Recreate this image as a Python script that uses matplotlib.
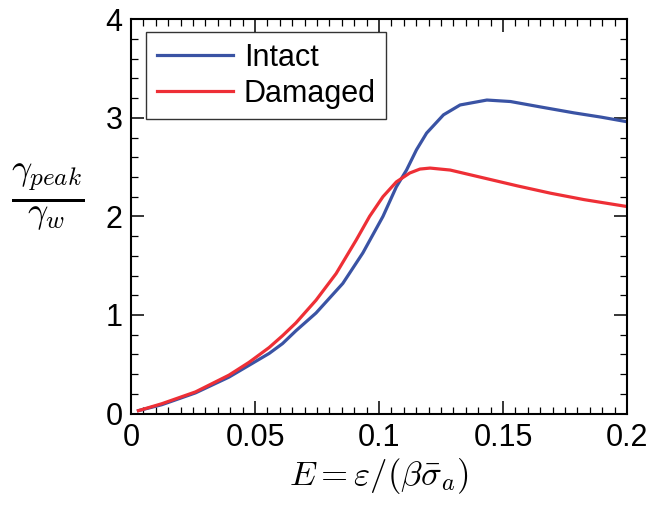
import matplotlib

matplotlib.use("Agg")
import matplotlib.pyplot as plt
from matplotlib.ticker import MultipleLocator, FuncFormatter

plt.rcParams["font.family"] = ["Liberation Sans", "DejaVu Sans"]
plt.rcParams["mathtext.fontset"] = "cm"

# values
intact_x = [0.003, 0.0124, 0.026, 0.0395, 0.0476, 0.0557, 0.0611, 0.0665, 0.0746, 0.0854,
            0.0935, 0.1016, 0.107, 0.1111, 0.1151, 0.1192, 0.126, 0.1327, 0.1435, 0.153,
            0.1651, 0.1786, 0.1895, 0.2]
intact_y = [0.03, 0.09, 0.21, 0.37, 0.49, 0.61, 0.71, 0.84, 1.02, 1.32,
            1.63, 2.00, 2.30, 2.47, 2.675, 2.845, 3.03, 3.13, 3.18, 3.165,
            3.11, 3.05, 3.007, 2.96]

damaged_x = [0.003, 0.0124, 0.026, 0.0395, 0.0476, 0.0557, 0.0611, 0.0665, 0.0746, 0.0827,
             0.0908, 0.0962, 0.1016, 0.107, 0.1124, 0.1165, 0.1206, 0.1287, 0.1422, 0.1557,
             0.1692, 0.1827, 0.2]
damaged_y = [0.03, 0.10, 0.22, 0.39, 0.52, 0.67, 0.79, 0.92, 1.15, 1.42,
             1.76, 2.00, 2.20, 2.35, 2.44, 2.48, 2.49, 2.47, 2.39, 2.31,
             2.235, 2.17, 2.10]

BLUE = "#3a53a4"
RED = "#ee2f36"
FS = 22

fig = plt.figure(figsize=(6.6, 5.05), dpi=100)
ax = fig.add_axes([0.1985, 0.181, 0.7515, 0.781])

ax.plot(intact_x, intact_y, color=BLUE, lw=2.3, label="Intact", solid_joinstyle="round")
ax.plot(damaged_x, damaged_y, color=RED, lw=2.3, label="Damaged", solid_joinstyle="round")

ax.set_xlim(0, 0.2)
ax.set_ylim(0, 4)
ax.xaxis.set_major_locator(MultipleLocator(0.05))
ax.xaxis.set_minor_locator(MultipleLocator(0.005))
ax.yaxis.set_major_locator(MultipleLocator(1))
ax.yaxis.set_minor_locator(MultipleLocator(0.2))
ax.xaxis.set_major_formatter(FuncFormatter(lambda v, p: f"{v:g}"))

ax.tick_params(which="both", direction="in", top=True, right=True, labelsize=FS)
ax.tick_params(which="major", length=9.5, width=1.1)
ax.tick_params(which="minor", length=4.7, width=0.9)
ax.tick_params(axis="x", pad=7)
ax.tick_params(axis="y", pad=6)
for s in ax.spines.values():
    s.set_linewidth(1.5)

ax.set_xlabel(r"$E = \varepsilon/(\beta\bar{\sigma}_a)$", fontsize=25, labelpad=2)
ax.set_ylabel(r"$\frac{\gamma_{peak}}{\gamma_w}$", fontsize=37, rotation=0,
              ha="center", va="center")
ax.yaxis.set_label_coords(-0.168, 0.55)

leg = ax.legend(loc="upper left", bbox_to_anchor=(0.03, 0.968), borderaxespad=0,
                fontsize=FS, frameon=True, fancybox=False, handlelength=2.5,
                handletextpad=0.35, labelspacing=0.2, borderpad=0.35)
leg.get_frame().set_edgecolor("black")
leg.get_frame().set_linewidth(1.0)

fig.savefig("out.png", dpi=100)
